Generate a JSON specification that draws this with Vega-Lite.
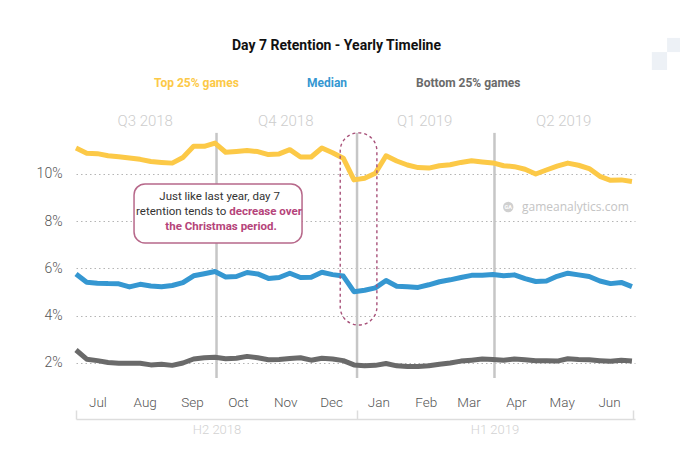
{
  "$schema": "https://vega.github.io/schema/vega-lite/v6.json",
  "width": 559,
  "height": 250,
  "autosize": {"type": "none"},
  "padding": {"left": 76, "top": 130, "right": 45, "bottom": 69},
  "config": {"font": "Roboto", "view": {"stroke": null}},
  "title": {"text": "Day 7 Retention - Yearly Timeline", "font": "Roboto", "fontSize": 14, "fontWeight": "bold", "color": "#111111", "anchor": "middle", "frame": "group", "dx": -19, "dy": 35, "offset": 20},
  "datasets": {
    "series": [
      {"d":"2018-07-01","s":"Top 25% games","v":11.1},{"d":"2018-07-08","s":"Top 25% games","v":10.88},{"d":"2018-07-15","s":"Top 25% games","v":10.86},{"d":"2018-07-22","s":"Top 25% games","v":10.77},{"d":"2018-07-29","s":"Top 25% games","v":10.73},{"d":"2018-08-05","s":"Top 25% games","v":10.68},{"d":"2018-08-12","s":"Top 25% games","v":10.62},{"d":"2018-08-19","s":"Top 25% games","v":10.53},{"d":"2018-08-26","s":"Top 25% games","v":10.49},{"d":"2018-09-02","s":"Top 25% games","v":10.46},{"d":"2018-09-09","s":"Top 25% games","v":10.7},{"d":"2018-09-16","s":"Top 25% games","v":11.17},{"d":"2018-09-23","s":"Top 25% games","v":11.17},{"d":"2018-09-30","s":"Top 25% games","v":11.31},{"d":"2018-10-07","s":"Top 25% games","v":10.92},{"d":"2018-10-14","s":"Top 25% games","v":10.95},{"d":"2018-10-21","s":"Top 25% games","v":10.99},{"d":"2018-10-28","s":"Top 25% games","v":10.95},{"d":"2018-11-04","s":"Top 25% games","v":10.82},{"d":"2018-11-11","s":"Top 25% games","v":10.85},{"d":"2018-11-18","s":"Top 25% games","v":11.03},{"d":"2018-11-25","s":"Top 25% games","v":10.72},{"d":"2018-12-02","s":"Top 25% games","v":10.72},{"d":"2018-12-09","s":"Top 25% games","v":11.1},{"d":"2018-12-16","s":"Top 25% games","v":10.9},{"d":"2018-12-23","s":"Top 25% games","v":10.67},{"d":"2018-12-30","s":"Top 25% games","v":9.75},{"d":"2019-01-06","s":"Top 25% games","v":9.82},{"d":"2019-01-13","s":"Top 25% games","v":10.03},{"d":"2019-01-20","s":"Top 25% games","v":10.77},{"d":"2019-01-27","s":"Top 25% games","v":10.55},{"d":"2019-02-03","s":"Top 25% games","v":10.38},{"d":"2019-02-10","s":"Top 25% games","v":10.27},{"d":"2019-02-17","s":"Top 25% games","v":10.25},{"d":"2019-02-24","s":"Top 25% games","v":10.35},{"d":"2019-03-03","s":"Top 25% games","v":10.39},{"d":"2019-03-10","s":"Top 25% games","v":10.49},{"d":"2019-03-17","s":"Top 25% games","v":10.56},{"d":"2019-03-24","s":"Top 25% games","v":10.51},{"d":"2019-03-31","s":"Top 25% games","v":10.47},{"d":"2019-04-07","s":"Top 25% games","v":10.35},{"d":"2019-04-14","s":"Top 25% games","v":10.31},{"d":"2019-04-21","s":"Top 25% games","v":10.2},{"d":"2019-04-28","s":"Top 25% games","v":10.0},{"d":"2019-05-05","s":"Top 25% games","v":10.17},{"d":"2019-05-12","s":"Top 25% games","v":10.33},{"d":"2019-05-19","s":"Top 25% games","v":10.46},{"d":"2019-05-26","s":"Top 25% games","v":10.37},{"d":"2019-06-02","s":"Top 25% games","v":10.23},{"d":"2019-06-09","s":"Top 25% games","v":9.9},{"d":"2019-06-16","s":"Top 25% games","v":9.73},{"d":"2019-06-23","s":"Top 25% games","v":9.75},{"d":"2019-06-30","s":"Top 25% games","v":9.68},
      {"d":"2018-07-01","s":"Median","v":5.77},{"d":"2018-07-08","s":"Median","v":5.42},{"d":"2018-07-15","s":"Median","v":5.38},{"d":"2018-07-22","s":"Median","v":5.36},{"d":"2018-07-29","s":"Median","v":5.35},{"d":"2018-08-05","s":"Median","v":5.22},{"d":"2018-08-12","s":"Median","v":5.33},{"d":"2018-08-19","s":"Median","v":5.26},{"d":"2018-08-26","s":"Median","v":5.23},{"d":"2018-09-02","s":"Median","v":5.28},{"d":"2018-09-09","s":"Median","v":5.4},{"d":"2018-09-16","s":"Median","v":5.69},{"d":"2018-09-23","s":"Median","v":5.78},{"d":"2018-09-30","s":"Median","v":5.87},{"d":"2018-10-07","s":"Median","v":5.64},{"d":"2018-10-14","s":"Median","v":5.66},{"d":"2018-10-21","s":"Median","v":5.83},{"d":"2018-10-28","s":"Median","v":5.77},{"d":"2018-11-04","s":"Median","v":5.58},{"d":"2018-11-11","s":"Median","v":5.62},{"d":"2018-11-18","s":"Median","v":5.8},{"d":"2018-11-25","s":"Median","v":5.62},{"d":"2018-12-02","s":"Median","v":5.63},{"d":"2018-12-09","s":"Median","v":5.84},{"d":"2018-12-16","s":"Median","v":5.74},{"d":"2018-12-23","s":"Median","v":5.68},{"d":"2018-12-30","s":"Median","v":5.02},{"d":"2019-01-06","s":"Median","v":5.08},{"d":"2019-01-13","s":"Median","v":5.18},{"d":"2019-01-20","s":"Median","v":5.49},{"d":"2019-01-27","s":"Median","v":5.25},{"d":"2019-02-03","s":"Median","v":5.23},{"d":"2019-02-10","s":"Median","v":5.2},{"d":"2019-02-17","s":"Median","v":5.31},{"d":"2019-02-24","s":"Median","v":5.44},{"d":"2019-03-03","s":"Median","v":5.52},{"d":"2019-03-10","s":"Median","v":5.62},{"d":"2019-03-17","s":"Median","v":5.71},{"d":"2019-03-24","s":"Median","v":5.71},{"d":"2019-03-31","s":"Median","v":5.75},{"d":"2019-04-07","s":"Median","v":5.69},{"d":"2019-04-14","s":"Median","v":5.73},{"d":"2019-04-21","s":"Median","v":5.57},{"d":"2019-04-28","s":"Median","v":5.45},{"d":"2019-05-05","s":"Median","v":5.47},{"d":"2019-05-12","s":"Median","v":5.67},{"d":"2019-05-19","s":"Median","v":5.8},{"d":"2019-05-26","s":"Median","v":5.73},{"d":"2019-06-02","s":"Median","v":5.66},{"d":"2019-06-09","s":"Median","v":5.47},{"d":"2019-06-16","s":"Median","v":5.36},{"d":"2019-06-23","s":"Median","v":5.41},{"d":"2019-06-30","s":"Median","v":5.23},
      {"d":"2018-07-01","s":"Bottom 25% games","v":2.55},{"d":"2018-07-08","s":"Bottom 25% games","v":2.16},{"d":"2018-07-15","s":"Bottom 25% games","v":2.1},{"d":"2018-07-22","s":"Bottom 25% games","v":2.02},{"d":"2018-07-29","s":"Bottom 25% games","v":1.99},{"d":"2018-08-05","s":"Bottom 25% games","v":1.99},{"d":"2018-08-12","s":"Bottom 25% games","v":1.99},{"d":"2018-08-19","s":"Bottom 25% games","v":1.92},{"d":"2018-08-26","s":"Bottom 25% games","v":1.95},{"d":"2018-09-02","s":"Bottom 25% games","v":1.9},{"d":"2018-09-09","s":"Bottom 25% games","v":2.0},{"d":"2018-09-16","s":"Bottom 25% games","v":2.17},{"d":"2018-09-23","s":"Bottom 25% games","v":2.22},{"d":"2018-09-30","s":"Bottom 25% games","v":2.24},{"d":"2018-10-07","s":"Bottom 25% games","v":2.18},{"d":"2018-10-14","s":"Bottom 25% games","v":2.2},{"d":"2018-10-21","s":"Bottom 25% games","v":2.28},{"d":"2018-10-28","s":"Bottom 25% games","v":2.22},{"d":"2018-11-04","s":"Bottom 25% games","v":2.14},{"d":"2018-11-11","s":"Bottom 25% games","v":2.15},{"d":"2018-11-18","s":"Bottom 25% games","v":2.19},{"d":"2018-11-25","s":"Bottom 25% games","v":2.22},{"d":"2018-12-02","s":"Bottom 25% games","v":2.12},{"d":"2018-12-09","s":"Bottom 25% games","v":2.2},{"d":"2018-12-16","s":"Bottom 25% games","v":2.17},{"d":"2018-12-23","s":"Bottom 25% games","v":2.1},{"d":"2018-12-30","s":"Bottom 25% games","v":1.92},{"d":"2019-01-06","s":"Bottom 25% games","v":1.88},{"d":"2019-01-13","s":"Bottom 25% games","v":1.9},{"d":"2019-01-20","s":"Bottom 25% games","v":1.98},{"d":"2019-01-27","s":"Bottom 25% games","v":1.88},{"d":"2019-02-03","s":"Bottom 25% games","v":1.85},{"d":"2019-02-10","s":"Bottom 25% games","v":1.85},{"d":"2019-02-17","s":"Bottom 25% games","v":1.88},{"d":"2019-02-24","s":"Bottom 25% games","v":1.95},{"d":"2019-03-03","s":"Bottom 25% games","v":2.0},{"d":"2019-03-10","s":"Bottom 25% games","v":2.08},{"d":"2019-03-17","s":"Bottom 25% games","v":2.12},{"d":"2019-03-24","s":"Bottom 25% games","v":2.17},{"d":"2019-03-31","s":"Bottom 25% games","v":2.15},{"d":"2019-04-07","s":"Bottom 25% games","v":2.12},{"d":"2019-04-14","s":"Bottom 25% games","v":2.17},{"d":"2019-04-21","s":"Bottom 25% games","v":2.14},{"d":"2019-04-28","s":"Bottom 25% games","v":2.1},{"d":"2019-05-05","s":"Bottom 25% games","v":2.1},{"d":"2019-05-12","s":"Bottom 25% games","v":2.08},{"d":"2019-05-19","s":"Bottom 25% games","v":2.18},{"d":"2019-05-26","s":"Bottom 25% games","v":2.15},{"d":"2019-06-02","s":"Bottom 25% games","v":2.14},{"d":"2019-06-09","s":"Bottom 25% games","v":2.1},{"d":"2019-06-16","s":"Bottom 25% games","v":2.07},{"d":"2019-06-23","s":"Bottom 25% games","v":2.12},{"d":"2019-06-30","s":"Bottom 25% games","v":2.08}
    ],
    "quarters": [
      {"d":"2018-10-01","top":11.74,"bot":1.365},
      {"d":"2019-01-01","top":11.74,"bot":1.365},
      {"d":"2019-04-01","top":11.74,"bot":1.365}
    ]
  },
  "resolve": {"axis": {"x": "independent"}},
  "layer": [
    {
      "data": {"name": "quarters"},
      "mark": {"type": "rule", "color": "#c6c6c6", "strokeWidth": 2.5},
      "encoding": {
        "x": {"field": "d", "type": "temporal", "scale": {"type": "utc", "domain": [{"year": 2018, "month": 7, "date": 1, "utc": true}, {"year": 2019, "month": 7, "date": 2, "utc": true}]},
          "axis": {"orient": "top", "values": [{"year": 2018, "month": 8, "date": 15, "utc": true}, {"year": 2018, "month": 11, "date": 15, "utc": true}, {"year": 2019, "month": 2, "date": 14, "utc": true}, {"year": 2019, "month": 5, "date": 16, "utc": true}],
            "labelExpr": "utcmonth(datum.value) == 7 ? 'Q3 2018' : utcmonth(datum.value) == 10 ? 'Q4 2018' : utcmonth(datum.value) == 1 ? 'Q1 2019' : 'Q2 2019'",
            "domain": false, "ticks": false, "grid": false, "title": null, "labelPadding": 2, "labelColor": "#cdcdcd", "labelFontSize": 15, "labelFontWeight": 300, "labelFont": "Roboto"}},
        "y": {"field": "top", "type": "quantitative", "scale": {"domain": [1.2804, 11.862], "nice": false, "zero": false},
          "axis": {"values": [2, 4, 6, 8, 10], "labelExpr": "datum.value + '%'", "domain": false, "ticks": false, "grid": true, "gridDash": [1.5, 3], "gridColor": "#b5b5b5", "gridWidth": 1, "title": null, "labelPadding": 14, "labelFontSize": 14, "labelColor": "#555555", "labelFontWeight": 300, "labelFont": "Roboto"}},
        "y2": {"field": "bot"}
      }
    },
    {
      "data": {"name": "series"},
      "mark": {"type": "line", "strokeWidth": 5, "strokeJoin": "round"},
      "encoding": {
        "x": {"field": "d", "type": "temporal", "scale": {"type": "utc", "domain": [{"year": 2018, "month": 7, "date": 1, "utc": true}, {"year": 2019, "month": 7, "date": 2, "utc": true}]},
          "axis": {"orient": "bottom", "values": [{"year": 2018, "month": 7, "date": 15, "utc": true}, {"year": 2018, "month": 8, "date": 15, "utc": true}, {"year": 2018, "month": 9, "date": 15, "utc": true}, {"year": 2018, "month": 10, "date": 15, "utc": true}, {"year": 2018, "month": 11, "date": 15, "utc": true}, {"year": 2018, "month": 12, "date": 15, "utc": true}, {"year": 2019, "month": 1, "date": 15, "utc": true}, {"year": 2019, "month": 2, "date": 15, "utc": true}, {"year": 2019, "month": 3, "date": 15, "utc": true}, {"year": 2019, "month": 4, "date": 15, "utc": true}, {"year": 2019, "month": 5, "date": 15, "utc": true}, {"year": 2019, "month": 6, "date": 15, "utc": true}],
            "format": "%b", "domain": false, "ticks": false, "grid": false, "title": null, "labelPadding": 15, "labelColor": "#555555", "labelFontSize": 13.5, "labelFontWeight": 300, "labelFont": "Roboto"}},
        "y": {"field": "v", "type": "quantitative", "scale": {"domain": [1.2804, 11.862], "nice": false, "zero": false}},
        "color": {"field": "s", "type": "nominal", "sort": null,
          "scale": {"domain": ["Top 25% games", "Median", "Bottom 25% games"], "range": ["#fcc947", "#3597d1", "#6a6a6a"]},
          "legend": {"orient": "none", "legendX": 66, "legendY": -53, "direction": "horizontal", "title": null, "symbolSize": 0, "symbolStrokeWidth": 0, "symbolOpacity": 0, "labelOffset": 0, "labelFont": "Roboto", "labelFontWeight": "bold", "labelFontSize": 12, "columnPadding": 56,
            "encode": {"labels": {"update": {"fill": {"scale": "color", "field": "value"}}}}}}
      }
    },
    {
      "data": {"values": [{"d": "2018-12-21", "d2": "2019-01-14", "v": 11.74, "v2": 3.61}]},
      "mark": {"type": "rect", "fill": null, "fillOpacity": 0, "stroke": "#a8527a", "strokeWidth": 1.4, "strokeDash": [3, 3], "cornerRadius": 18},
      "encoding": {
        "x": {"field": "d", "type": "temporal", "scale": {"type": "utc", "domain": [{"year": 2018, "month": 7, "date": 1, "utc": true}, {"year": 2019, "month": 7, "date": 2, "utc": true}]},
          "axis": {"orient": "bottom", "offset": 39, "values": [{"year": 2018, "month": 7, "date": 1, "utc": true}, {"year": 2019, "month": 1, "date": 1, "utc": true}, {"year": 2019, "month": 7, "date": 1, "utc": true}],
            "labels": false, "grid": false, "title": null, "domain": true, "domainColor": "#dddddd", "domainWidth": 1.5, "ticks": true, "tickColor": "#dddddd", "tickWidth": 1.5, "tickSize": -9}},
        "x2": {"field": "d2"},
        "y": {"field": "v", "type": "quantitative", "scale": {"domain": [1.2804, 11.862], "nice": false, "zero": false}},
        "y2": {"field": "v2"}
      }
    },
    {
      "data": {"values": [{"d": "2018-08-08", "d2": "2018-11-26", "v": 9.58, "v2": 7.08}]},
      "mark": {"type": "rect", "fill": "#ffffff", "stroke": "#b7688a", "strokeWidth": 1.5, "cornerRadius": 11},
      "encoding": {
        "x": {"field": "d", "type": "temporal", "scale": {"type": "utc", "domain": [{"year": 2018, "month": 7, "date": 1, "utc": true}, {"year": 2019, "month": 7, "date": 2, "utc": true}]},
          "axis": {"orient": "bottom", "offset": 39, "values": [{"year": 2018, "month": 10, "date": 1, "utc": true}, {"year": 2019, "month": 4, "date": 1, "utc": true}],
            "labelExpr": "utcmonth(datum.value) == 9 ? 'H2 2018' : 'H1 2019'", "domain": false, "ticks": false, "grid": false, "title": null, "labelPadding": 4, "labelColor": "#d2d2d2", "labelFontSize": 13, "labelFontWeight": 300, "labelFont": "Roboto"}},
        "x2": {"field": "d2"},
        "y": {"field": "v", "type": "quantitative", "scale": {"domain": [1.2804, 11.862], "nice": false, "zero": false}},
        "y2": {"field": "v2"}
      }
    },
    {
      "data": {"values": [{"d": "2018-10-03", "v": 9.03, "t": "Just like last year, day 7"}]},
      "mark": {"type": "text", "align": "center", "baseline": "middle", "fontSize": 11.5, "color": "#333333", "font": "Roboto"},
      "encoding": {
        "x": {"field": "d", "type": "temporal", "scale": {"type": "utc", "domain": [{"year": 2018, "month": 7, "date": 1, "utc": true}, {"year": 2019, "month": 7, "date": 2, "utc": true}]}, "axis": null},
        "y": {"field": "v", "type": "quantitative", "scale": {"domain": [1.2804, 11.862], "nice": false, "zero": false}},
        "text": {"field": "t"}
      }
    },
    {
      "data": {"values": [{"d": "2018-10-08", "v": 8.39, "t": "retention tends to"}]},
      "mark": {"type": "text", "align": "right", "baseline": "middle", "fontSize": 11.5, "color": "#333333", "font": "Roboto", "dx": -1},
      "encoding": {
        "x": {"field": "d", "type": "temporal", "scale": {"type": "utc", "domain": [{"year": 2018, "month": 7, "date": 1, "utc": true}, {"year": 2019, "month": 7, "date": 2, "utc": true}]}, "axis": null},
        "y": {"field": "v", "type": "quantitative", "scale": {"domain": [1.2804, 11.862], "nice": false, "zero": false}},
        "text": {"field": "t"}
      }
    },
    {
      "data": {"values": [{"d": "2018-10-08", "v": 8.39, "t": "decrease over"}]},
      "mark": {"type": "text", "align": "left", "baseline": "middle", "fontSize": 11.5, "fontWeight": "bold", "color": "#b5447a", "font": "Roboto", "dx": 2},
      "encoding": {
        "x": {"field": "d", "type": "temporal", "scale": {"type": "utc", "domain": [{"year": 2018, "month": 7, "date": 1, "utc": true}, {"year": 2019, "month": 7, "date": 2, "utc": true}]}, "axis": null},
        "y": {"field": "v", "type": "quantitative", "scale": {"domain": [1.2804, 11.862], "nice": false, "zero": false}},
        "text": {"field": "t"}
      }
    },
    {
      "data": {"values": [{"d": "2018-10-04", "v": 7.76, "t": "the Christmas period."}]},
      "mark": {"type": "text", "align": "center", "baseline": "middle", "fontSize": 11.5, "fontWeight": "bold", "color": "#b5447a", "font": "Roboto"},
      "encoding": {
        "x": {"field": "d", "type": "temporal", "scale": {"type": "utc", "domain": [{"year": 2018, "month": 7, "date": 1, "utc": true}, {"year": 2019, "month": 7, "date": 2, "utc": true}]}, "axis": null},
        "y": {"field": "v", "type": "quantitative", "scale": {"domain": [1.2804, 11.862], "nice": false, "zero": false}},
        "text": {"field": "t"}
      }
    },
    {
      "data": {"values": [{"d": "2019-04-10", "v": 8.6}]},
      "mark": {"type": "point", "filled": true, "size": 110, "color": "#d0d0d0", "opacity": 1},
      "encoding": {
        "x": {"field": "d", "type": "temporal", "scale": {"type": "utc", "domain": [{"year": 2018, "month": 7, "date": 1, "utc": true}, {"year": 2019, "month": 7, "date": 2, "utc": true}]}, "axis": null},
        "y": {"field": "v", "type": "quantitative", "scale": {"domain": [1.2804, 11.862], "nice": false, "zero": false}}
      }
    },
    {
      "data": {"values": [{"d": "2019-04-10", "v": 8.6, "t": "GA"}]},
      "mark": {"type": "text", "align": "center", "baseline": "middle", "fontSize": 5.5, "fontWeight": "bold", "color": "#ffffff", "font": "Roboto"},
      "encoding": {
        "x": {"field": "d", "type": "temporal", "scale": {"type": "utc", "domain": [{"year": 2018, "month": 7, "date": 1, "utc": true}, {"year": 2019, "month": 7, "date": 2, "utc": true}]}, "axis": null},
        "y": {"field": "v", "type": "quantitative", "scale": {"domain": [1.2804, 11.862], "nice": false, "zero": false}},
        "text": {"field": "t"}
      }
    },
    {
      "data": {"values": [{"d": "2019-04-19", "v": 8.6, "t": "gameanalytics.com"}]},
      "mark": {"type": "text", "align": "left", "baseline": "middle", "fontSize": 12, "color": "#c4c4c4", "font": "Open Sans"},
      "encoding": {
        "x": {"field": "d", "type": "temporal", "scale": {"type": "utc", "domain": [{"year": 2018, "month": 7, "date": 1, "utc": true}, {"year": 2019, "month": 7, "date": 2, "utc": true}]}, "axis": null},
        "y": {"field": "v", "type": "quantitative", "scale": {"domain": [1.2804, 11.862], "nice": false, "zero": false}},
        "text": {"field": "t"}
      }
    },
    {
      "data": {"values": [{"d": "2019-07-23", "d2": "2019-08-05", "v": 15.76, "v2": 15.16}, {"d": "2019-07-13", "d2": "2019-07-23", "v": 15.16, "v2": 14.4}]},
      "mark": {"type": "rect", "color": "#edf1f6"},
      "encoding": {
        "x": {"field": "d", "type": "temporal", "scale": {"type": "utc", "domain": [{"year": 2018, "month": 7, "date": 1, "utc": true}, {"year": 2019, "month": 7, "date": 2, "utc": true}]}, "axis": null},
        "x2": {"field": "d2"},
        "y": {"field": "v", "type": "quantitative", "scale": {"domain": [1.2804, 11.862], "nice": false, "zero": false}},
        "y2": {"field": "v2"}
      }
    }
  ]
}
